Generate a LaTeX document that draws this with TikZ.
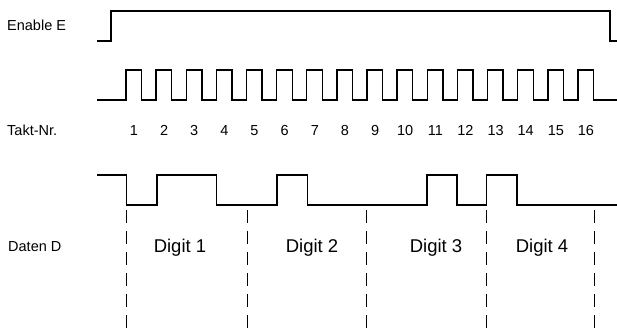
\documentclass[tikz,border=0pt]{standalone}
\usepackage{fontspec}
\setmainfont{Liberation Sans}
\tikzset{
  signal/.style={line width=1.4pt, line join=miter},
  cutline/.style={line width=0.8pt, dash pattern=on 13pt off 8pt},
  sigtext/.style={font=\fontsize{14.5}{16}\selectfont, inner sep=0pt},
  digittext/.style={font=\fontsize{18.5}{20}\selectfont, inner sep=0pt, anchor=base}
}
\begin{document}
\begin{tikzpicture}[x=1pt, y=-1pt]
  \useasboundingbox (0,0) rectangle (617,336);

  % Labels
  \node[sigtext, anchor=base west] (enable) at (7,31) {Enable E};
  \node[sigtext, anchor=base west] (takt) at (7,135.5) {Takt-Nr.};
  \node[sigtext, anchor=base west] (daten) at (8,251.5) {Daten D};

  % Enable
  \draw[signal] (97,41) -- (111,41) -- (111,11) -- (610,11) -- (610,41) -- (617,41);

  % Clock with numbers
  \draw[signal] (97,100)
    \foreach \k in {0,...,15} {
      -- ({126+30.13*\k},100) -- ({126+30.13*\k},70)
      -- ({141.6+30.13*\k},70) -- ({141.6+30.13*\k},100)
    } -- (617,100);
  \foreach \k in {1,...,16}
    \node[sigtext, anchor=base] (nr\k) at ({134+30.13*(\k-1)},135.5) {\k};

  % Data
  \draw[signal] (97,175) -- (126.5,175) -- (126.5,205) -- (157,205) -- (157,175)
    -- (216.5,175) -- (216.5,205) -- (277,205) -- (277,175)
    -- (307.5,175) -- (307.5,205) -- (427,205) -- (427,175) -- (457,175)
    -- (457,205) -- (486.5,205) -- (486.5,175) -- (517,175) -- (517,205)
    -- (617,205);

  % Digit boundaries
  \foreach \x in {126, 247, 366, 486, 594}
    \draw[cutline] (\x,210) -- (\x,336);

  % Digits
  \node[digittext] (dig1) at (180,252) {Digit 1};
  \node[digittext] (dig2) at (312,252) {Digit 2};
  \node[digittext] (dig3) at (436,252) {Digit 3};
  \node[digittext] (dig4) at (542,252) {Digit 4};
\end{tikzpicture}
\end{document}
